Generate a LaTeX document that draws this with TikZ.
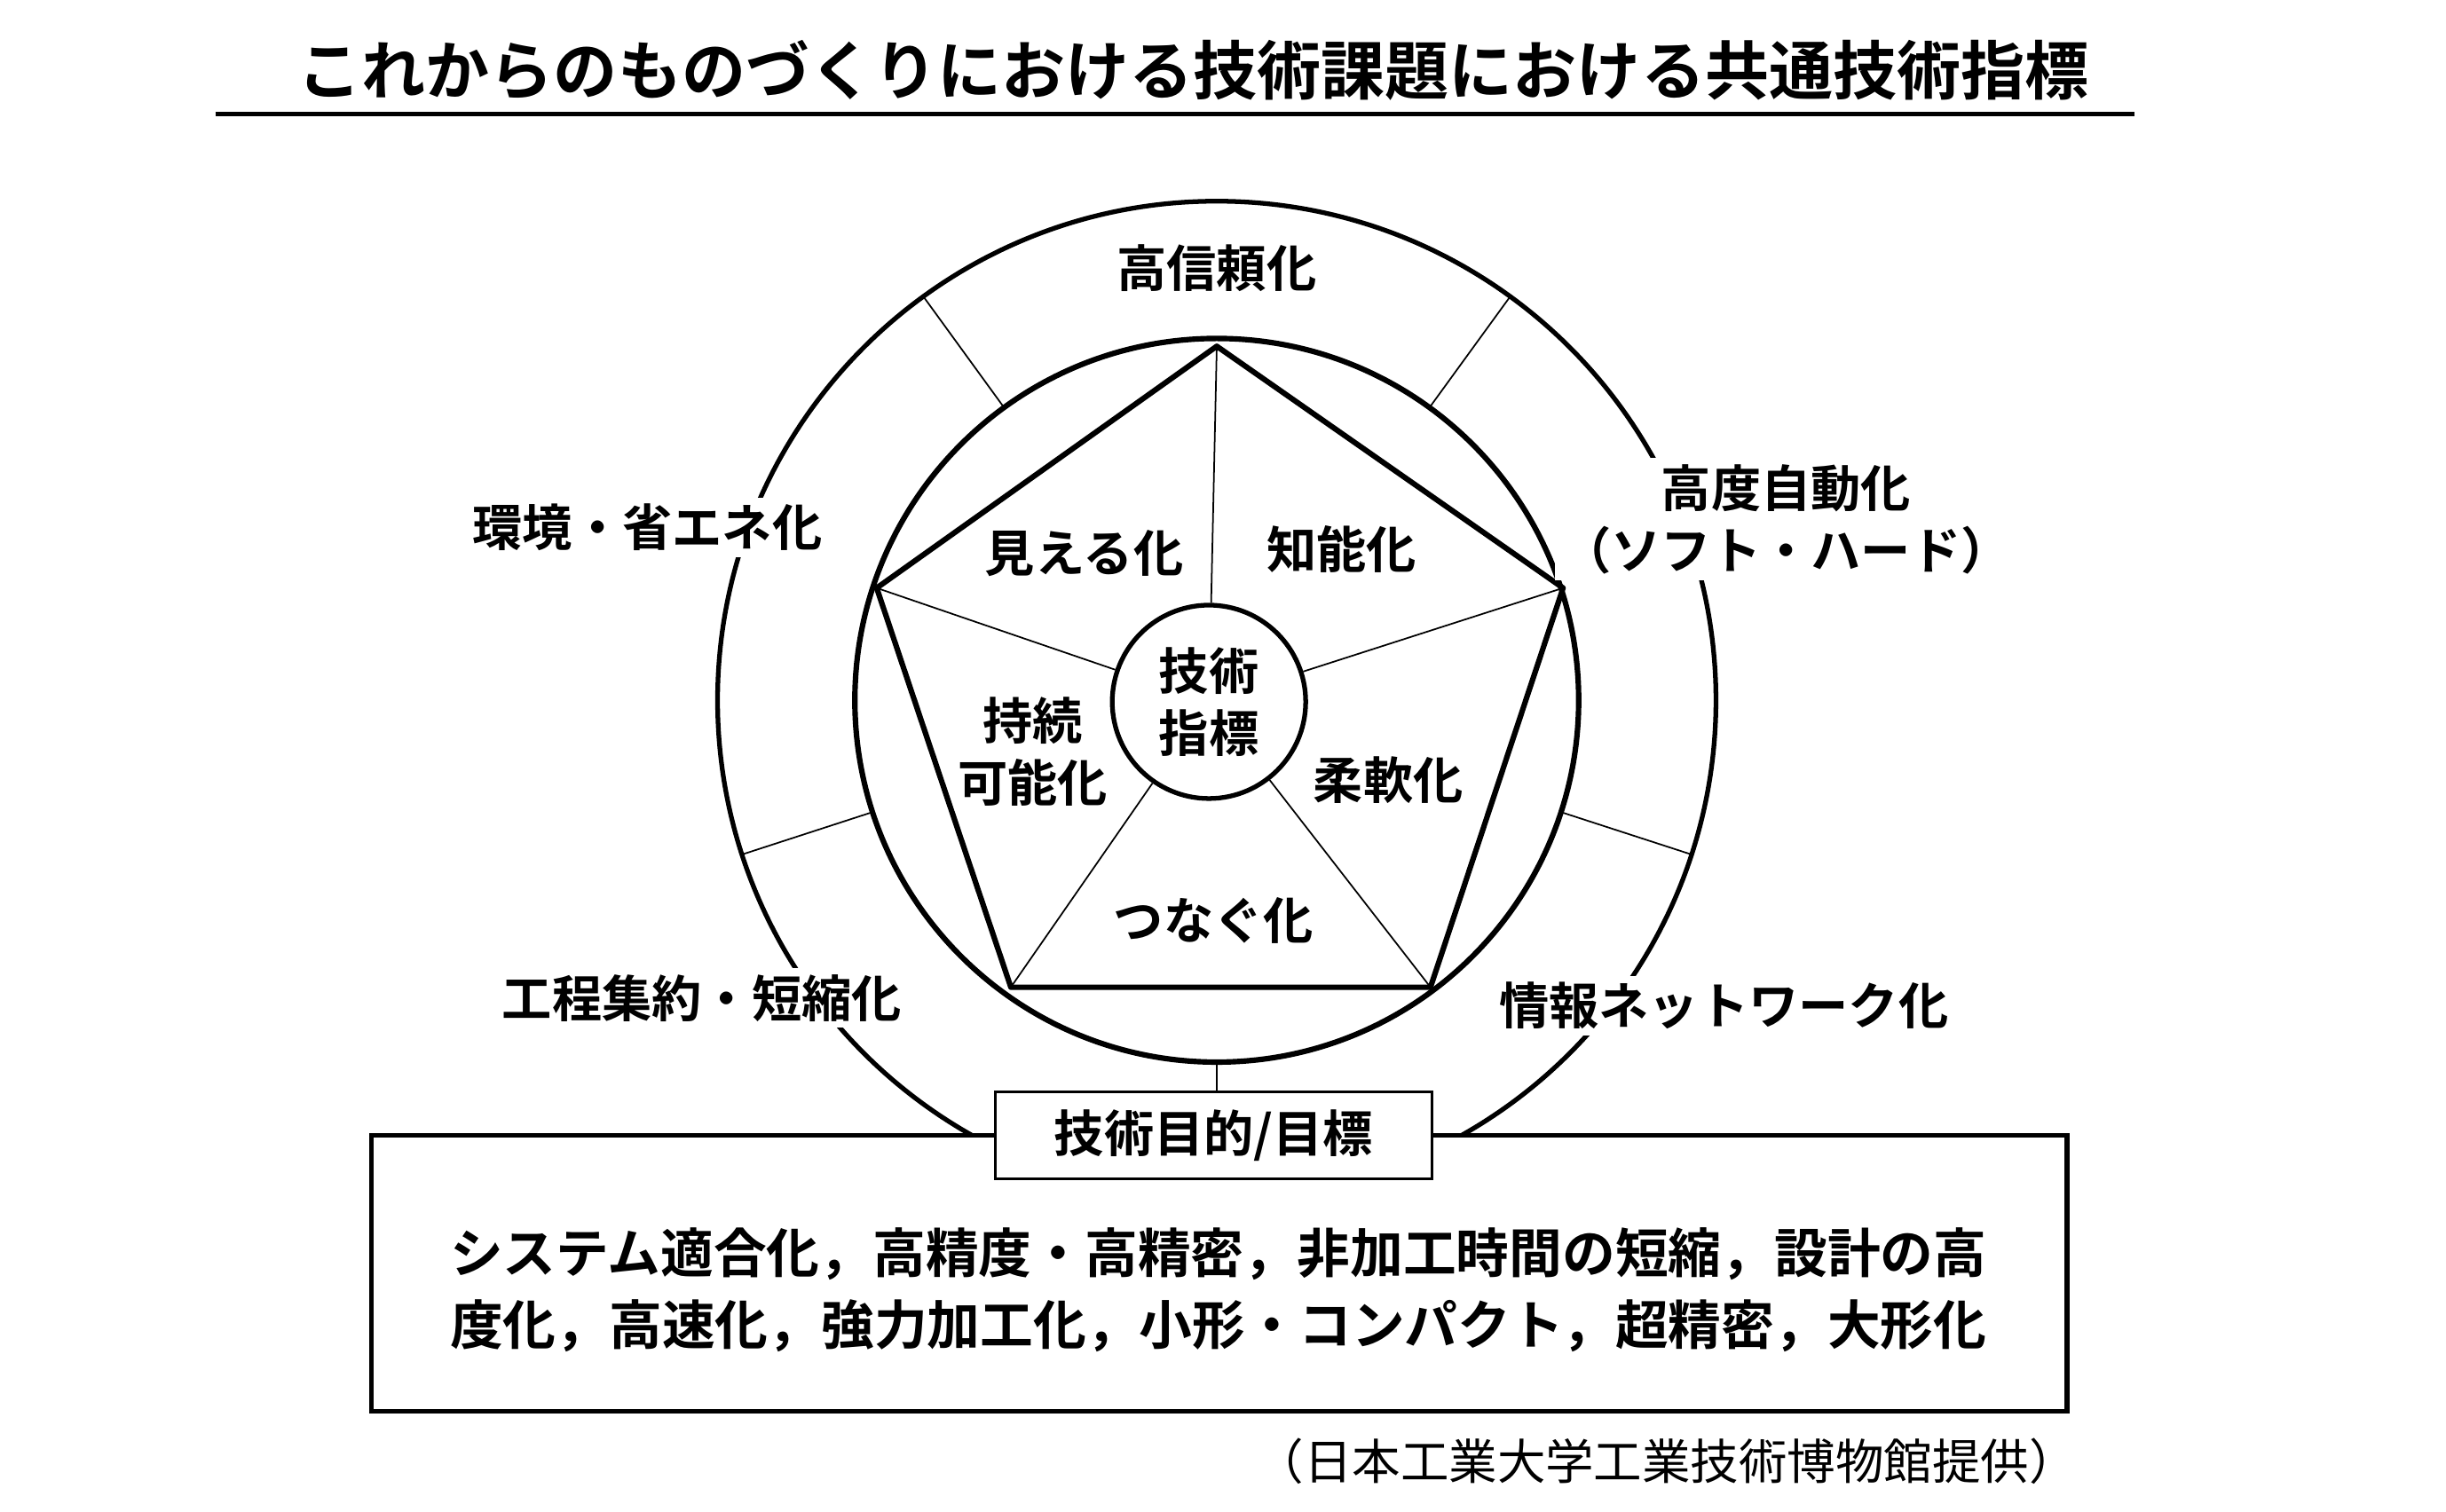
\documentclass[tikz,border=0pt]{standalone}
\usepackage{fontspec}
\usetikzlibrary{calc}
\newfontfamily\jp{Noto Sans CJK JP}[BoldFont={* Bold}]
\begin{document}
\begin{tikzpicture}[x=1pt,y=-1pt,
  lab/.style={font=\jp\bfseries\fontsize{32}{40}\selectfont,align=center,inner sep=0pt},
  olab/.style={lab,fill=white,inner sep=4pt},
  thin/.style={line width=1pt},
  thick/.style={line width=3pt}]
\useasboundingbox[fill=white] (0,0) rectangle (1568,969);
\node[font=\jp\bfseries\fontsize{41}{44}\selectfont,inner sep=0pt] (title) at (765,45) {これからのものづくりにおける技術課題における共通技術指標};
\coordinate (ul) at (138,73); \coordinate (ur) at (1368,73);
\draw[line width=3pt] (ul) -- (ur);
\coordinate (C) at (780,449);
\draw[thick] (C) circle (320);
\foreach \a in {-126,-54,18,162,90}
  \draw[thin] ($(C)+(\a:232)$) -- ($(C)+(\a:320)$);
\draw[line width=3.5pt,fill=white] (C) circle (232);
\coordinate (v1) at (780,222); \coordinate (v2) at (1002,377); \coordinate (v3) at (917,633); \coordinate (v4) at (648,633); \coordinate (v5) at (562,377);
\node[circle,draw,line width=3pt,minimum size=124pt,inner sep=0pt] (core) at (775,450) {};
\foreach \i in {1,...,5} \draw[thin] (core) -- (v\i);
\draw[line width=3.5pt,line join=round] (v1)--(v2)--(v3)--(v4)--(v5)--cycle;
\node[lab] (k) at (775,450) {技術\\指標};
\node[lab] (a1) at (695,355) {見える化};
\node[lab] (a2) at (860,352) {知能化};
\node[lab] (a3) at (662,482) {持続\\可能化};
\node[lab] (a4) at (890,500) {柔軟化};
\node[lab] (a5) at (778,590) {つなぐ化};
\node[olab] (b1) at (780,172) {高信頼化};
\node[olab] (b2) at (415,338) {環境・省エネ化};
\node[olab] (b3) at (1145,333) {高度自動化\\（ソフト・ハード）};
\node[olab] (b4) at (450,640) {工程集約・短縮化};
\node[olab] (b5) at (1105,645) {情報ネットワーク化};
\draw[thick,fill=white] (238,728) rectangle (1325,905);
\node[lab,fill=white,draw,line width=1.5pt,minimum width=280pt,minimum height=56pt] (tb) at (778,728) {技術目的/目標};
\node[lab,font=\jp\bfseries\fontsize{34}{46}\selectfont] (bt) at (781,827) {システム適合化，高精度・高精密，非加工時間の短縮，設計の高\\度化，高速化，強力加工化，小形・コンパクト，超精密，大形化};
\node[font=\jp\fontsize{31}{34}\selectfont,anchor=east,inner sep=0pt] (src) at (1332,937) {（日本工業大学工業技術博物館提供）};
\end{tikzpicture}
\end{document}
